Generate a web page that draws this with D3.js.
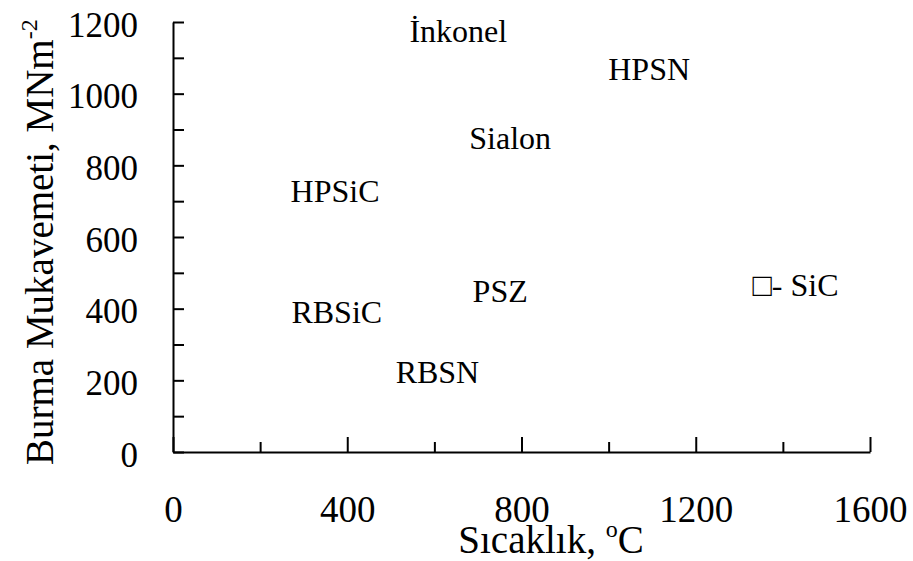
<!DOCTYPE html>
<html>
<head>
<meta charset="UTF-8">
<title>Burma Mukavemeti - Sıcaklık</title>
<script src="https://d3js.org/d3.v7.min.js"></script>
<style>
body { margin: 0; background: #fff; }
svg { background: #fff; }
.axis path, .axis line { stroke: #000; stroke-width: 2; }
</style>
</head>
<body>
<svg id="chart" width="913" height="561"></svg>
<script>
// malzeme etiketleri (sıcaklık °C, mukavemet MNm^-2)
const materials = ["İnkonel", "HPSN", "Sialon", "HPSiC", "PSZ", "RBSiC", "RBSN", "\u25A1- SiC"];
const temps = [655, 1093, 774, 372, 751, 376, 607, 1429];
const strengths = [1175, 1069, 876, 728, 449, 391, 223, 466];

const xTicks = [0, 200, 400, 600, 800, 1000, 1200, 1400, 1600];
const yTicks = [0, 100, 200, 300, 400, 500, 600, 700, 800, 900, 1000, 1100, 1200];

const serif = '"Liberation Serif"';
const svg = d3.select("#chart");

// eksen ölçekleri
const x = d3.scaleLinear().domain([0, 1600]).range([173, 870]);
const y = d3.scaleLinear().domain([0, 1200]).range([452, 22]);

// x ekseni (içe bakan çentikler)
const gx = svg.append("g")
    .attr("class", "axis")
    .attr("transform", "translate(0," + y(0) + ")")
    .call(d3.axisBottom(x)
        .tickValues(xTicks)
        .tickSizeInner(-10)
        .tickSizeOuter(0)
        .tickPadding(0)
        .tickFormat(d => d % 400 === 0 ? d : ""));
gx.selectAll(".tick line").attr("y2", d => d % 400 === 0 ? -15 : -10);
gx.selectAll(".tick text")
    .attr("y", 70)
    .attr("dy", 0)
    .style("font-family", serif)
    .style("font-size", "37px")
    .style("fill", "#000");

// y ekseni
const gy = svg.append("g")
    .attr("class", "axis")
    .attr("transform", "translate(" + x(0) + ",0)")
    .call(d3.axisLeft(y)
        .tickValues(yTicks)
        .tickSizeInner(-11)
        .tickSizeOuter(0)
        .tickPadding(35)
        .tickFormat(d => d % 200 === 0 ? d : ""));
gy.selectAll(".tick text")
    .attr("dy", "0.4em")
    .style("font-family", serif)
    .style("font-size", "35px")
    .style("fill", "#000");
svg.selectAll(".axis .domain").attr("stroke-width", 2.5);

// eksen başlıkları
const xt = svg.append("text")
    .attr("x", 551)
    .attr("y", 553)
    .attr("text-anchor", "middle")
    .style("font-family", serif)
    .style("font-size", "39px")
    .text("Sıcaklık, ");
xt.append("tspan").style("font-size", "24px").attr("dy", -16).text("o");
xt.append("tspan").attr("dy", 16).text("C");

const yt = svg.append("text")
    .attr("transform", "translate(53,465) rotate(-90)")
    .attr("text-anchor", "start")
    .style("font-family", serif)
    .style("font-size", "39px")
    .text("Burma Mukavemeti, MNm");
yt.append("tspan").style("font-size", "24px").attr("dy", -16).text("-2");

// malzeme etiketleri
svg.selectAll(".mat")
    .data(materials)
    .enter()
    .append("text")
    .attr("class", "mat")
    .attr("x", (d, i) => x(temps[i]))
    .attr("y", (d, i) => y(strengths[i]))
    .attr("dy", "0.34em")
    .attr("text-anchor", "middle")
    .style("font-family", serif)
    .style("font-size", "32px")
    .text(d => d);
</script>
</body>
</html>
